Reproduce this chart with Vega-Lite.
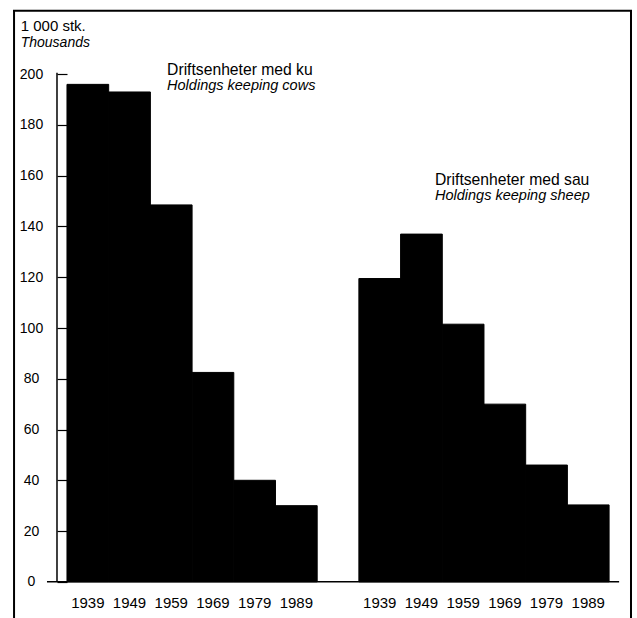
{
  "$schema": "https://vega.github.io/schema/vega-lite/v6.json",
  "width": 619,
  "height": 608,
  "autosize": {"type": "none"},
  "padding": {"left": 13, "top": 10, "right": 5, "bottom": 0},
  "background": "white",
  "config": {
    "view": {"stroke": null},
    "font": "Liberation Sans, Arial, sans-serif",
    "text": {"font": "Liberation Sans, Arial, sans-serif", "color": "#000"}
  },
  "data": {"values": [{}]},
  "resolve": {"scale": {"x": "independent"}},
  "layer": [
    {
      "data": {"values": [
        {"group": "Driftsenheter med ku", "year": "1939", "key": "1939 ku", "value": 196},
        {"group": "Driftsenheter med ku", "year": "1949", "key": "1949 ku", "value": 193},
        {"group": "Driftsenheter med ku", "year": "1959", "key": "1959 ku", "value": 148.5},
        {"group": "Driftsenheter med ku", "year": "1969", "key": "1969 ku", "value": 82.5},
        {"group": "Driftsenheter med ku", "year": "1979", "key": "1979 ku", "value": 40},
        {"group": "Driftsenheter med ku", "year": "1989", "key": "1989 ku", "value": 30},
        {"group": "Driftsenheter med sau", "year": "1939", "key": "1939 sau", "value": 119.5},
        {"group": "Driftsenheter med sau", "year": "1949", "key": "1949 sau", "value": 137},
        {"group": "Driftsenheter med sau", "year": "1959", "key": "1959 sau", "value": 101.5},
        {"group": "Driftsenheter med sau", "year": "1969", "key": "1969 sau", "value": 70},
        {"group": "Driftsenheter med sau", "year": "1979", "key": "1979 sau", "value": 46},
        {"group": "Driftsenheter med sau", "year": "1989", "key": "1989 sau", "value": 30.3}
      ]},
      "mark": {"type": "bar", "color": "#000", "stroke": "#000", "strokeWidth": 1},
      "encoding": {
        "x": {
          "field": "key", "type": "nominal", "sort": null,
          "scale": {
            "domain": ["1939 ku", "1949 ku", "1959 ku", "1969 ku", "1979 ku", "1989 ku", "gap", "1939 sau", "1949 sau", "1959 sau", "1969 sau", "1979 sau", "1989 sau"],
            "paddingInner": 0, "paddingOuter": 0.922, "align": 0.702, "round": false
          },
          "axis": {
            "title": null, "orient": "bottom", "offset": -23, "domain": false, "ticks": false,
            "labelPadding": 0, "labelAngle": 0, "labelFontSize": 15, "labelColor": "#000",
            "labelFont": "Liberation Sans, Arial, sans-serif",
            "labelExpr": "datum.value == 'gap' ? '' : substring(datum.value, 0, 4)"
          }
        },
        "y": {
          "field": "value", "type": "quantitative",
          "scale": {"domain": [-14.26, 225.3], "nice": false, "zero": false},
          "axis": {
            "title": null, "values": [0, 20, 40, 60, 80, 100, 120, 140, 160, 180, 200],
            "offset": -44, "domain": false, "grid": false,
            "tickSize": -10, "tickColor": "#000", "tickWidth": 1.2,
            "labelAlign": "center", "labelPadding": 36, "labelBaseline": "middle",
            "labelFontSize": 14, "labelColor": "#000",
            "labelFont": "Liberation Sans, Arial, sans-serif"
          }
        },
        "y2": {"datum": 0}
      }
    },
    {
      "mark": {"type": "rule", "color": "#000", "strokeWidth": 1.5},
      "encoding": {
        "x": {"datum": -0.24, "type": "quantitative", "scale": {"domain": [-1.295, 13.549], "nice": false, "zero": false}, "axis": null},
        "y": {"datum": 0, "type": "quantitative", "scale": {"domain": [-14.26, 225.3], "nice": false, "zero": false}},
        "y2": {"datum": 200.6}
      }
    },
    {
      "mark": {"type": "rule", "color": "#000", "strokeWidth": 1.5},
      "encoding": {
        "x": {"datum": -0.48, "type": "quantitative", "scale": {"domain": [-1.295, 13.549], "nice": false, "zero": false}, "axis": null},
        "x2": {"datum": 13.24},
        "y": {"datum": 0, "type": "quantitative", "scale": {"domain": [-14.26, 225.3], "nice": false, "zero": false}}
      }
    },
    {
      "mark": {"type": "rule", "color": "#000", "strokeWidth": 2},
      "encoding": {
        "x": {"datum": -1.27, "type": "quantitative", "scale": {"domain": [-1.295, 13.549], "nice": false, "zero": false}, "axis": null}
      }
    },
    {
      "mark": {"type": "rule", "color": "#000", "strokeWidth": 2},
      "encoding": {
        "x": {"datum": 13.525, "type": "quantitative", "scale": {"domain": [-1.295, 13.549], "nice": false, "zero": false}, "axis": null}
      }
    },
    {
      "mark": {"type": "rule", "color": "#000", "strokeWidth": 2},
      "encoding": {
        "y": {"datum": 225.0, "type": "quantitative", "scale": {"domain": [-14.26, 225.3], "nice": false, "zero": false}}
      }
    },
    {
      "mark": {"type": "text", "text": "1 000 stk.", "align": "left", "baseline": "middle", "fontSize": 15},
      "encoding": {
        "x": {"datum": -1.11, "type": "quantitative", "scale": {"domain": [-1.295, 13.549], "nice": false, "zero": false}, "axis": null},
        "y": {"datum": 218.8, "type": "quantitative", "scale": {"domain": [-14.26, 225.3], "nice": false, "zero": false}}
      }
    },
    {
      "mark": {"type": "text", "text": "Thousands", "align": "left", "baseline": "middle", "fontSize": 14, "fontStyle": "italic"},
      "encoding": {
        "x": {"datum": -1.11, "type": "quantitative", "scale": {"domain": [-1.295, 13.549], "nice": false, "zero": false}, "axis": null},
        "y": {"datum": 212.4, "type": "quantitative", "scale": {"domain": [-14.26, 225.3], "nice": false, "zero": false}}
      }
    },
    {
      "mark": {"type": "text", "text": "Driftsenheter med ku", "align": "left", "baseline": "middle", "fontSize": 15.7},
      "encoding": {
        "x": {"datum": 2.4, "type": "quantitative", "scale": {"domain": [-1.295, 13.549], "nice": false, "zero": false}, "axis": null},
        "y": {"datum": 201.6, "type": "quantitative", "scale": {"domain": [-14.26, 225.3], "nice": false, "zero": false}}
      }
    },
    {
      "mark": {"type": "text", "text": "Holdings keeping cows", "align": "left", "baseline": "middle", "fontSize": 14.5, "fontStyle": "italic"},
      "encoding": {
        "x": {"datum": 2.4, "type": "quantitative", "scale": {"domain": [-1.295, 13.549], "nice": false, "zero": false}, "axis": null},
        "y": {"datum": 195.3, "type": "quantitative", "scale": {"domain": [-14.26, 225.3], "nice": false, "zero": false}}
      }
    },
    {
      "mark": {"type": "text", "text": "Driftsenheter med sau", "align": "left", "baseline": "middle", "fontSize": 15.7},
      "encoding": {
        "x": {"datum": 8.825, "type": "quantitative", "scale": {"domain": [-1.295, 13.549], "nice": false, "zero": false}, "axis": null},
        "y": {"datum": 158.2, "type": "quantitative", "scale": {"domain": [-14.26, 225.3], "nice": false, "zero": false}}
      }
    },
    {
      "mark": {"type": "text", "text": "Holdings keeping sheep", "align": "left", "baseline": "middle", "fontSize": 14.5, "fontStyle": "italic"},
      "encoding": {
        "x": {"datum": 8.825, "type": "quantitative", "scale": {"domain": [-1.295, 13.549], "nice": false, "zero": false}, "axis": null},
        "y": {"datum": 151.9, "type": "quantitative", "scale": {"domain": [-14.26, 225.3], "nice": false, "zero": false}}
      }
    }
  ]
}
